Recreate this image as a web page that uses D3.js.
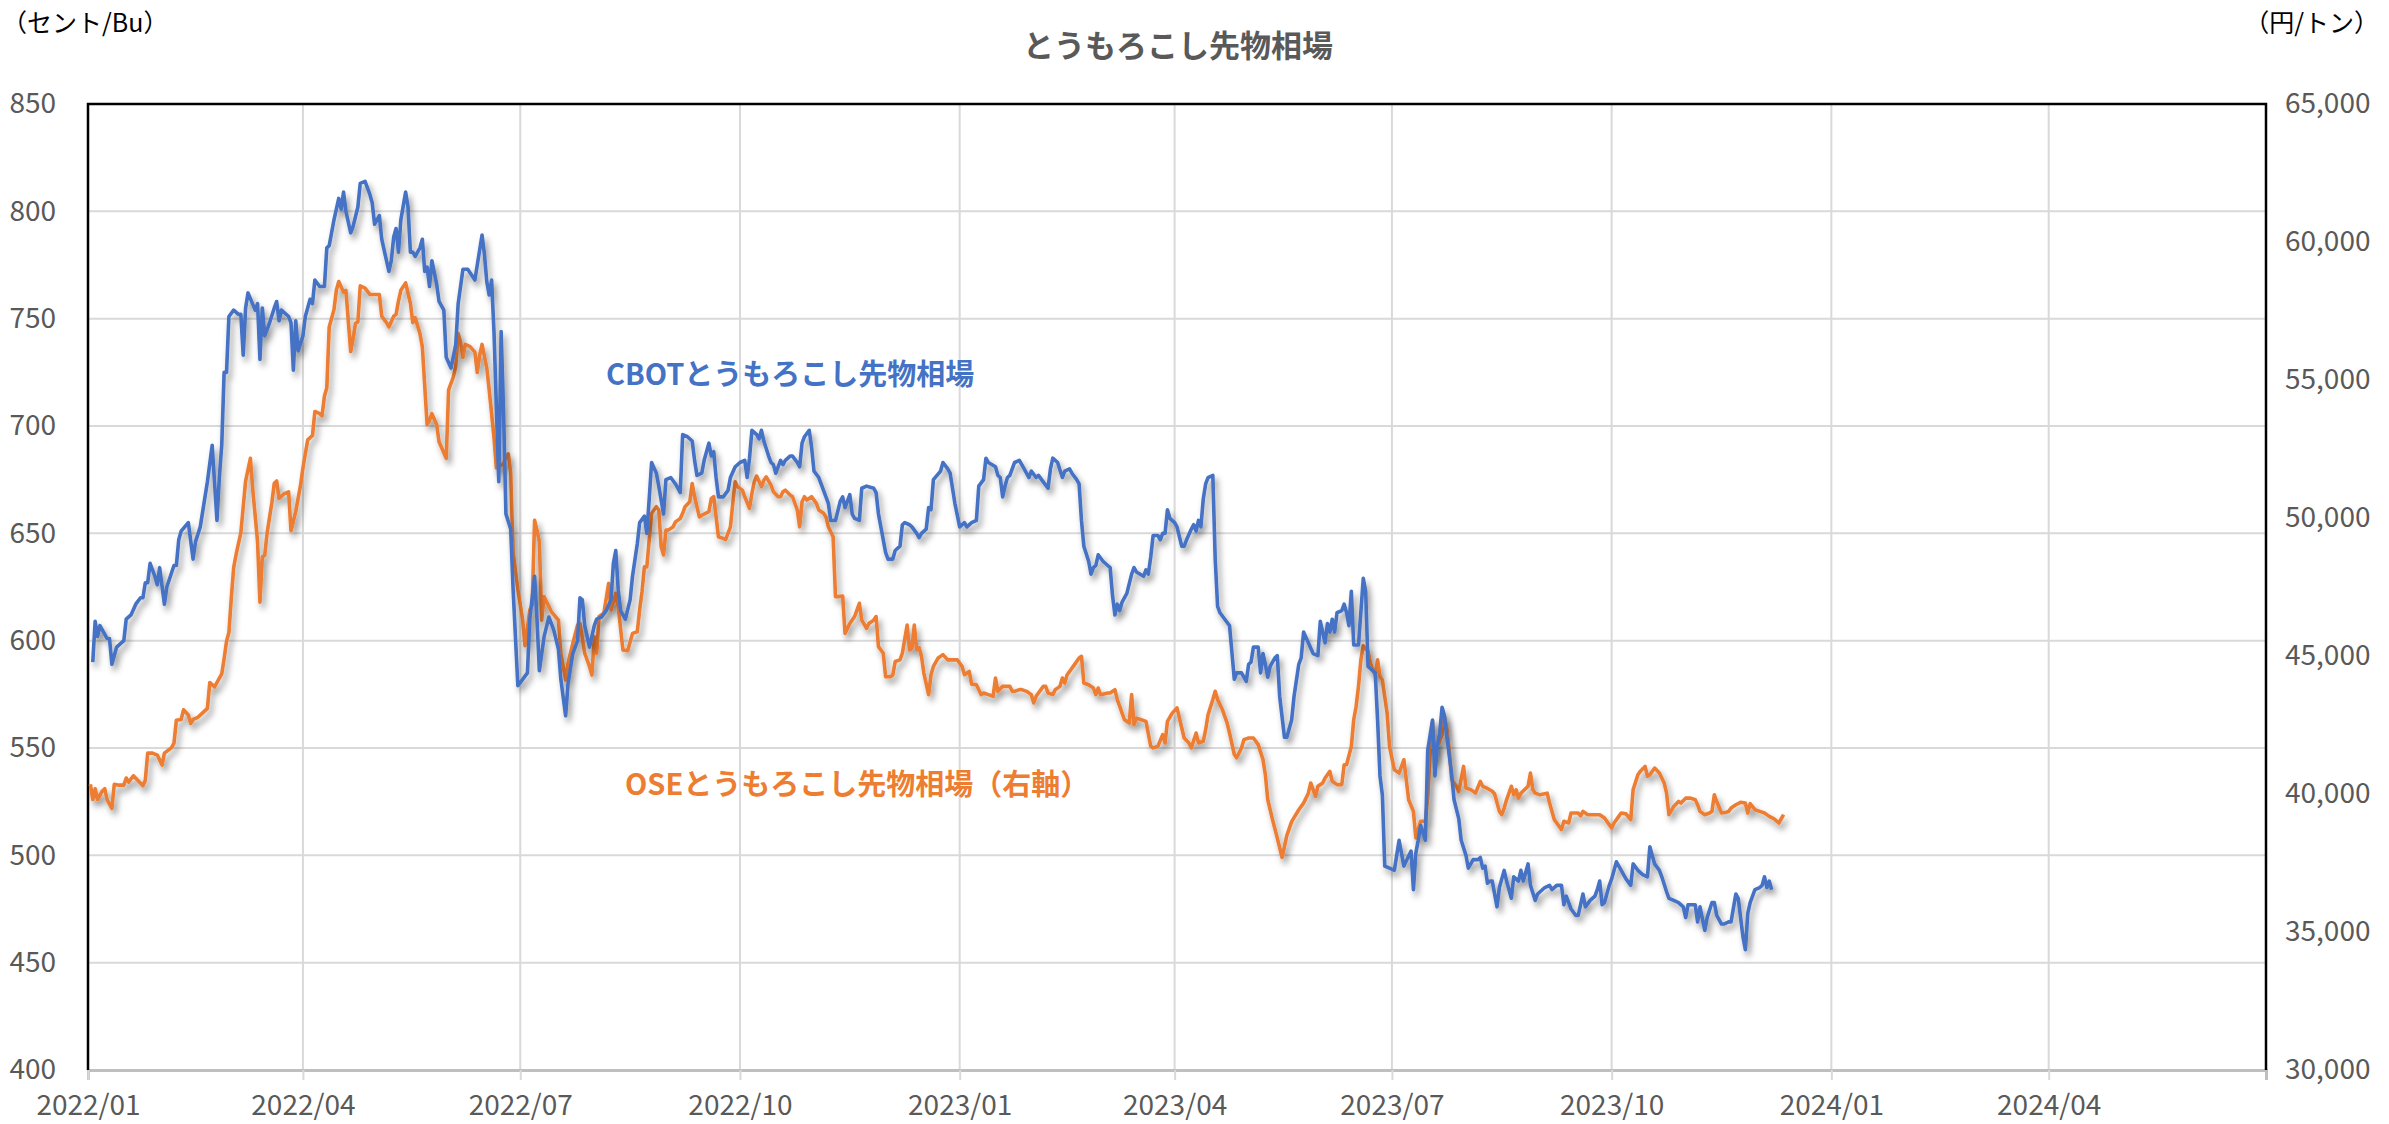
<!DOCTYPE html>
<html>
<head>
<meta charset="utf-8">
<script src="https://cdn.jsdelivr.net/npm/d3@7"></script>
<style>
  html, body { margin: 0; padding: 0; background: #fff; }
  svg { display: block; }
</style>
</head>
<body>
<svg id="chart" width="2389" height="1124"></svg>
<script>
// CBOT corn futures (cents / bushel)
const cbot = [
  ["2022-01-03",590],["2022-01-04",609],["2022-01-05",602],["2022-01-06",607],["2022-01-09",601],["2022-01-10",601],["2022-01-11",589],["2022-01-13",597],["2022-01-16",600],["2022-01-17",610],["2022-01-19",612],["2022-01-21",617],["2022-01-23",620],["2022-01-24",620],["2022-01-25",627],["2022-01-26",627],["2022-01-27",636],["2022-01-29",630],["2022-01-30",626],["2022-01-31",634],
  ["2022-02-02",617],["2022-02-03",625],["2022-02-06",635],["2022-02-07",635],["2022-02-08",647],["2022-02-09",651],["2022-02-12",655],["2022-02-14",638],["2022-02-15",646],["2022-02-17",653],["2022-02-18",660],["2022-02-20",674],["2022-02-22",691],["2022-02-24",656],["2022-02-25",676],["2022-02-26",691],["2022-02-27",725],["2022-02-28",725],
  ["2022-03-01",751],["2022-03-03",754],["2022-03-05",752],["2022-03-06",752],["2022-03-07",733],["2022-03-08",755],["2022-03-09",762],["2022-03-12",754],["2022-03-13",757],["2022-03-14",731],["2022-03-15",755],["2022-03-16",742],["2022-03-18",748],["2022-03-20",755],["2022-03-21",758],["2022-03-22",749],["2022-03-23",754],["2022-03-26",751],["2022-03-27",748],["2022-03-28",726],["2022-03-29",749],["2022-03-30",735],
  ["2022-04-01",742],["2022-04-02",751],["2022-04-04",759],["2022-04-05",757],["2022-04-06",768],["2022-04-08",765],["2022-04-10",765],["2022-04-11",783],["2022-04-12",784],["2022-04-14",796],["2022-04-16",806],["2022-04-17",801],["2022-04-18",809],["2022-04-19",800],["2022-04-21",790],["2022-04-22",793],["2022-04-24",802],["2022-04-25",813],["2022-04-27",814],["2022-04-29",808],["2022-04-30",804],
  ["2022-05-01",794],["2022-05-03",798],["2022-05-04",787],["2022-05-07",772],["2022-05-08",777],["2022-05-09",788],["2022-05-10",792],["2022-05-11",781],["2022-05-12",796],["2022-05-14",809],["2022-05-15",802],["2022-05-16",781],["2022-05-17",781],["2022-05-18",779],["2022-05-20",783],["2022-05-21",787],["2022-05-22",772],["2022-05-23",774],["2022-05-24",765],["2022-05-25",777],["2022-05-27",766],["2022-05-28",758],["2022-05-30",754],["2022-05-31",732],
  ["2022-06-02",727],["2022-06-04",738],["2022-06-05",757],["2022-06-07",773],["2022-06-09",773],["2022-06-12",768],["2022-06-15",789],["2022-06-16",780],["2022-06-17",767],["2022-06-18",761],["2022-06-19",768],["2022-06-20",744],["2022-06-22",674],["2022-06-23",744],["2022-06-24",707],["2022-06-25",659],["2022-06-27",652],["2022-06-28",624],["2022-06-30",579],
  ["2022-07-02",582],["2022-07-04",585],["2022-07-05",610],["2022-07-07",630],["2022-07-08",610],["2022-07-09",586],["2022-07-11",602],["2022-07-13",611],["2022-07-15",605],["2022-07-17",596],["2022-07-18",582],["2022-07-20",565],["2022-07-21",580],["2022-07-23",594],["2022-07-25",600],["2022-07-26",620],["2022-07-27",619],["2022-07-28",607],["2022-07-30",597],
  ["2022-08-01",607],["2022-08-02",610],["2022-08-04",611],["2022-08-06",614],["2022-08-08",619],["2022-08-09",636],["2022-08-10",642],["2022-08-11",624],["2022-08-12",614],["2022-08-14",610],["2022-08-16",619],["2022-08-17",630],["2022-08-19",645],["2022-08-20",655],["2022-08-22",658],["2022-08-23",650],["2022-08-24",666],["2022-08-25",683],["2022-08-27",678],["2022-08-28",672],["2022-08-30",659],["2022-08-31",675],
  ["2022-09-02",676],["2022-09-04",673],["2022-09-06",669],["2022-09-07",696],["2022-09-09",695],["2022-09-11",693],["2022-09-12",684],["2022-09-13",677],["2022-09-15",678],["2022-09-16",684],["2022-09-18",692],["2022-09-19",686],["2022-09-20",688],["2022-09-21",676],["2022-09-22",667],["2022-09-24",667],["2022-09-26",670],["2022-09-27",676],["2022-09-29",681],
  ["2022-10-01",683],["2022-10-03",684],["2022-10-04",676],["2022-10-05",685],["2022-10-06",698],["2022-10-08",696],["2022-10-09",694],["2022-10-10",698],["2022-10-11",693],["2022-10-13",686],["2022-10-14",683],["2022-10-15",682],["2022-10-16",678],["2022-10-18",684],["2022-10-19",682],["2022-10-20",684],["2022-10-22",686],["2022-10-23",686],["2022-10-25",683],["2022-10-26",681],["2022-10-27",692],["2022-10-28",695],["2022-10-30",698],["2022-10-31",690],
  ["2022-11-01",679],["2022-11-03",676],["2022-11-05",670],["2022-11-07",664],["2022-11-08",656],["2022-11-10",656],["2022-11-12",665],["2022-11-13",667],["2022-11-14",662],["2022-11-16",668],["2022-11-17",659],["2022-11-18",657],["2022-11-20",656],["2022-11-21",671],["2022-11-23",672],["2022-11-26",671],["2022-11-27",669],["2022-11-28",659],
  ["2022-12-01",641],["2022-12-02",638],["2022-12-04",638],["2022-12-05",642],["2022-12-07",644],["2022-12-08",654],["2022-12-09",655],["2022-12-11",654],["2022-12-12",653],["2022-12-14",650],["2022-12-15",648],["2022-12-16",650],["2022-12-18",652],["2022-12-19",662],["2022-12-20",661],["2022-12-21",675],["2022-12-24",679],["2022-12-25",683],["2022-12-27",680],["2022-12-28",678],["2022-12-30",664],
  ["2023-01-01",653],["2023-01-03",655],["2023-01-04",653],["2023-01-06",655],["2023-01-08",656],["2023-01-09",672],["2023-01-11",675],["2023-01-12",685],["2023-01-13",683],["2023-01-16",681],["2023-01-17",677],["2023-01-18",676],["2023-01-19",667],["2023-01-20",672],["2023-01-21",676],["2023-01-22",677],["2023-01-24",683],["2023-01-26",684],["2023-01-27",682],["2023-01-28",680],["2023-01-30",676],["2023-01-31",679],
  ["2023-02-02",676],["2023-02-03",677],["2023-02-05",674],["2023-02-07",671],["2023-02-08",680],["2023-02-09",685],["2023-02-11",683],["2023-02-13",676],["2023-02-14",679],["2023-02-16",680],["2023-02-17",678],["2023-02-19",675],["2023-02-20",673],["2023-02-21",656],["2023-02-22",644],["2023-02-24",637],["2023-02-25",631],["2023-02-26",634],["2023-02-27",635],["2023-02-28",640],
  ["2023-03-02",637],["2023-03-04",635],["2023-03-05",634],["2023-03-06",621],["2023-03-07",612],["2023-03-08",617],["2023-03-09",614],["2023-03-10",618],["2023-03-12",622],["2023-03-14",631],["2023-03-15",634],["2023-03-16",632],["2023-03-19",630],["2023-03-20",633],["2023-03-21",631],["2023-03-22",639],["2023-03-23",649],["2023-03-25",649],["2023-03-26",647],["2023-03-27",650],["2023-03-28",650],["2023-03-29",661],["2023-03-30",657],
  ["2023-04-01",655],["2023-04-02",653],["2023-04-04",644],["2023-04-05",644],["2023-04-06",647],["2023-04-08",652],["2023-04-09",654],["2023-04-10",651],["2023-04-11",656],["2023-04-12",653],["2023-04-13",666],["2023-04-14",673],["2023-04-15",676],["2023-04-17",677],["2023-04-18",638],["2023-04-19",616],["2023-04-20",613],["2023-04-22",610],["2023-04-24",607],["2023-04-26",582],["2023-04-27",585],["2023-04-29",585],
  ["2023-05-01",581],["2023-05-02",589],["2023-05-03",590],["2023-05-04",597],["2023-05-06",597],["2023-05-07",585],["2023-05-08",594],["2023-05-09",589],["2023-05-10",583],["2023-05-11",588],["2023-05-13",592],["2023-05-14",593],["2023-05-15",574],["2023-05-17",555],["2023-05-18",555],["2023-05-20",563],["2023-05-21",574],["2023-05-23",589],["2023-05-24",592],["2023-05-25",604],["2023-05-27",599],["2023-05-29",594],["2023-05-31",593],
  ["2023-06-01",609],["2023-06-02",604],["2023-06-03",599],["2023-06-04",608],["2023-06-05",604],["2023-06-06",610],["2023-06-07",604],["2023-06-08",613],["2023-06-10",614],["2023-06-11",617],["2023-06-12",613],["2023-06-13",607],["2023-06-14",623],["2023-06-15",598],["2023-06-17",598],["2023-06-19",629],["2023-06-20",623],["2023-06-21",588],["2023-06-24",585],["2023-06-25",563],["2023-06-26",537],["2023-06-27",528],["2023-06-28",495],["2023-06-30",494],
  ["2023-07-02",493],["2023-07-04",507],["2023-07-06",495],["2023-07-09",502],["2023-07-10",484],["2023-07-11",501],["2023-07-12",507],["2023-07-13",514],["2023-07-15",507],["2023-07-16",549],["2023-07-18",563],["2023-07-19",537],["2023-07-20",551],["2023-07-21",557],["2023-07-22",569],["2023-07-23",565],["2023-07-24",555],["2023-07-26",538],["2023-07-27",526],["2023-07-29",517],["2023-07-30",507],
  ["2023-08-01",500],["2023-08-02",494],["2023-08-04",498],["2023-08-06",498],["2023-08-07",499],["2023-08-08",494],["2023-08-09",495],["2023-08-10",487],["2023-08-11",488],["2023-08-12",488],["2023-08-14",476],["2023-08-15",485],["2023-08-17",493],["2023-08-18",488],["2023-08-20",480],["2023-08-21",490],["2023-08-23",488],["2023-08-24",493],["2023-08-25",488],["2023-08-27",496],["2023-08-28",486],["2023-08-30",479],["2023-08-31",482],
  ["2023-09-03",485],["2023-09-05",486],["2023-09-06",484],["2023-09-08",486],["2023-09-10",486],["2023-09-11",477],["2023-09-12",481],["2023-09-14",475],["2023-09-16",472],["2023-09-17",472],["2023-09-19",482],["2023-09-20",476],["2023-09-22",479],["2023-09-24",481],["2023-09-25",484],["2023-09-26",488],["2023-09-27",477],["2023-09-28",478],["2023-09-30",486],
  ["2023-10-01",489],["2023-10-03",497],["2023-10-05",493],["2023-10-06",491],["2023-10-07",489],["2023-10-09",486],["2023-10-10",496],["2023-10-12",493],["2023-10-14",491],["2023-10-16",490],["2023-10-17",504],["2023-10-19",496],["2023-10-21",493],["2023-10-22",490],["2023-10-24",483],["2023-10-25",480],["2023-10-27",479],["2023-10-29",478],["2023-10-31",476],
  ["2023-11-01",471],["2023-11-02",477],["2023-11-04",477],["2023-11-05",477],["2023-11-06",469],["2023-11-07",476],["2023-11-09",465],["2023-11-10",471],["2023-11-12",478],["2023-11-13",478],["2023-11-14",472],["2023-11-16",468],["2023-11-17",468],["2023-11-19",469],["2023-11-20",469],["2023-11-22",482],["2023-11-23",480],["2023-11-25",462],["2023-11-26",456],["2023-11-27",473],["2023-11-28",478],["2023-11-30",484],
  ["2023-12-02",485],["2023-12-03",486],["2023-12-04",490],["2023-12-05",485],["2023-12-06",488],["2023-12-07",484]
];

// OSE corn futures (yen / ton), right axis
const ose = [
  ["2022-01-02",40350],["2022-01-03",39800],["2022-01-04",40190],["2022-01-05",39800],["2022-01-07",40110],["2022-01-08",40190],["2022-01-09",39800],["2022-01-11",39480],["2022-01-12",40350],["2022-01-14",40320],["2022-01-16",40320],["2022-01-17",40580],["2022-01-18",40430],["2022-01-20",40660],["2022-01-22",40480],["2022-01-24",40300],["2022-01-25",40500],["2022-01-26",41480],["2022-01-28",41480],["2022-01-30",41410],
  ["2022-02-01",41050],["2022-02-02",41480],["2022-02-05",41680],["2022-02-06",41840],["2022-02-07",42670],["2022-02-09",42700],["2022-02-10",43050],["2022-02-12",42860],["2022-02-13",42550],["2022-02-14",42700],["2022-02-16",42780],["2022-02-18",42940],["2022-02-20",43100],["2022-02-21",44040],["2022-02-23",43880],["2022-02-24",44040],["2022-02-26",44350],["2022-02-27",44900],["2022-02-28",45530],
  ["2022-03-01",45850],["2022-03-02",47100],["2022-03-03",48200],["2022-03-04",48670],["2022-03-05",49070],["2022-03-06",49460],["2022-03-07",50400],["2022-03-08",51340],["2022-03-10",52160],["2022-03-11",51030],["2022-03-12",50090],["2022-03-13",49140],["2022-03-14",46950],["2022-03-15",48590],["2022-03-16",48640],["2022-03-17",49460],["2022-03-19",50560],["2022-03-20",51260],["2022-03-21",51340],["2022-03-22",50710],["2022-03-24",50870],["2022-03-26",50950],["2022-03-27",49540],["2022-03-29",50240],["2022-03-31",51190],
  ["2022-04-01",51810],["2022-04-03",52830],["2022-04-05",52990],["2022-04-06",53860],["2022-04-08",53780],["2022-04-09",53700],["2022-04-10",54410],["2022-04-11",54720],["2022-04-12",56920],["2022-04-14",57550],["2022-04-15",58250],["2022-04-16",58570],["2022-04-18",58180],["2022-04-19",58250],["2022-04-21",56030],["2022-04-22",56500],["2022-04-23",57050],["2022-04-24",57100],["2022-04-25",58410],["2022-04-27",58330],["2022-04-29",58100],
  ["2022-05-01",58100],["2022-05-03",58100],["2022-05-04",57310],["2022-05-06",57080],["2022-05-07",56920],["2022-05-09",57310],["2022-05-10",57380],["2022-05-11",57860],["2022-05-12",58250],["2022-05-14",58520],["2022-05-16",57780],["2022-05-17",57080],["2022-05-18",57260],["2022-05-20",56680],["2022-05-21",56200],["2022-05-23",53380],["2022-05-24",53540],["2022-05-25",53780],["2022-05-27",53380],["2022-05-28",52760],["2022-05-31",52160],
  ["2022-06-01",54640],["2022-06-03",55110],["2022-06-04",55500],["2022-06-05",56680],["2022-06-06",56370],["2022-06-07",55820],["2022-06-08",56290],["2022-06-10",56210],["2022-06-12",56010],["2022-06-13",55270],["2022-06-14",55900],["2022-06-15",56290],["2022-06-17",55430],["2022-06-18",54640],["2022-06-20",52910],["2022-06-21",51810],["2022-06-24",51970],["2022-06-25",52210],["2022-06-26",52320],["2022-06-27",51660],["2022-06-28",48750],["2022-06-30",47420],
  ["2022-07-02",46320],["2022-07-03",45370],["2022-07-05",46670],["2022-07-06",46850],["2022-07-07",49920],["2022-07-08",49560],["2022-07-09",49140],["2022-07-10",46300],["2022-07-11",47150],["2022-07-13",46790],["2022-07-14",46610],["2022-07-17",46300],["2022-07-18",45100],["2022-07-20",44130],["2022-07-21",44740],["2022-07-23",45460],["2022-07-25",46120],["2022-07-26",46180],["2022-07-28",45100],["2022-07-30",44620],["2022-07-31",44310],
  ["2022-08-01",45700],["2022-08-02",45100],["2022-08-03",46430],["2022-08-05",46550],["2022-08-07",47630],["2022-08-08",46670],["2022-08-10",47270],["2022-08-11",46790],["2022-08-12",46000],["2022-08-13",45220],["2022-08-15",45190],["2022-08-17",45820],["2022-08-19",45880],["2022-08-20",46670],["2022-08-21",47330],["2022-08-22",48230],["2022-08-23",48230],["2022-08-25",50170],["2022-08-27",50410],["2022-08-28",50290],["2022-08-29",48960],["2022-08-30",48660],["2022-08-31",49560],
  ["2022-09-01",49560],["2022-09-03",49680],["2022-09-04",49860],["2022-09-06",49980],["2022-09-07",50170],["2022-09-08",50410],["2022-09-10",50590],["2022-09-11",51250],["2022-09-12",50770],["2022-09-14",50040],["2022-09-15",50100],["2022-09-18",50230],["2022-09-19",50710],["2022-09-20",50770],["2022-09-22",49320],["2022-09-24",49260],["2022-09-25",49220],["2022-09-27",49680],["2022-09-28",50530],["2022-09-29",51310],["2022-09-30",51130],
  ["2022-10-02",51010],["2022-10-03",50770],["2022-10-05",50350],["2022-10-06",50890],["2022-10-07",51310],["2022-10-08",51520],["2022-10-10",51130],["2022-10-11",51370],["2022-10-12",51490],["2022-10-14",51190],["2022-10-15",50950],["2022-10-17",50770],["2022-10-18",50770],["2022-10-19",50950],["2022-10-20",51010],["2022-10-22",50830],["2022-10-23",50770],["2022-10-25",50290],["2022-10-26",49680],["2022-10-27",50590],["2022-10-28",50770],["2022-10-29",50650],["2022-10-31",50770],
  ["2022-11-02",50530],["2022-11-03",50290],["2022-11-05",50170],["2022-11-06",50040],["2022-11-07",49680],["2022-11-09",49320],["2022-11-10",47150],["2022-11-11",47150],["2022-11-13",47170],["2022-11-14",45820],["2022-11-16",46180],["2022-11-18",46430],["2022-11-20",46910],["2022-11-21",46300],["2022-11-23",46000],["2022-11-24",46180],["2022-11-26",46300],["2022-11-27",46430],["2022-11-28",45340],["2022-11-30",45100],
  ["2022-12-01",44250],["2022-12-03",44250],["2022-12-04",44310],["2022-12-05",44800],["2022-12-07",44860],["2022-12-08",45100],["2022-12-10",46120],["2022-12-11",45220],["2022-12-12",45280],["2022-12-13",46120],["2022-12-14",45220],["2022-12-15",45300],["2022-12-16",44990],["2022-12-17",44380],["2022-12-19",43600],["2022-12-20",44320],["2022-12-21",44620],["2022-12-23",44930],["2022-12-25",45050],["2022-12-27",44860],["2022-12-29",44860],["2022-12-31",44860],
  ["2023-01-02",44620],["2023-01-03",44320],["2023-01-05",44440],["2023-01-06",43980],["2023-01-08",43960],["2023-01-10",43600],["2023-01-11",43660],["2023-01-13",43600],["2023-01-15",43540],["2023-01-16",44200],["2023-01-17",43720],["2023-01-19",43900],["2023-01-22",43900],["2023-01-23",43720],["2023-01-24",43720],["2023-01-26",43780],["2023-01-27",43780],["2023-01-29",43720],["2023-01-31",43600],
  ["2023-02-01",43300],["2023-02-02",43540],["2023-02-05",43900],["2023-02-06",43900],["2023-02-07",43660],["2023-02-09",43600],["2023-02-10",43780],["2023-02-12",43900],["2023-02-13",44200],["2023-02-14",44020],["2023-02-15",44320],["2023-02-16",44440],["2023-02-18",44680],["2023-02-20",44930],["2023-02-21",44990],["2023-02-22",44020],["2023-02-24",43960],["2023-02-26",43840],["2023-02-27",43600],["2023-02-28",43840],
  ["2023-03-01",43600],["2023-03-04",43660],["2023-03-05",43660],["2023-03-07",43780],["2023-03-08",43420],["2023-03-09",43180],["2023-03-10",42930],["2023-03-11",42690],["2023-03-13",42570],["2023-03-14",43600],["2023-03-15",42510],["2023-03-16",42750],["2023-03-18",42690],["2023-03-20",42630],["2023-03-22",41730],["2023-03-23",41670],["2023-03-25",41730],["2023-03-27",42150],["2023-03-28",41850],["2023-03-29",42630],["2023-03-31",42930],
  ["2023-04-02",43120],["2023-04-04",42390],["2023-04-05",42030],["2023-04-07",41850],["2023-04-08",41670],["2023-04-10",42210],["2023-04-11",41850],["2023-04-13",41910],["2023-04-14",42330],["2023-04-15",42870],["2023-04-17",43420],["2023-04-18",43720],["2023-04-19",43420],["2023-04-21",43060],["2023-04-23",42570],["2023-04-24",42210],["2023-04-26",41430],["2023-04-27",41310],["2023-04-29",41670],["2023-04-30",41970],
  ["2023-05-02",42030],["2023-05-04",42030],["2023-05-06",41790],["2023-05-08",41250],["2023-05-09",40700],["2023-05-10",39800],["2023-05-12",39070],["2023-05-14",38400],["2023-05-16",37700],["2023-05-18",38500],["2023-05-20",39000],["2023-05-23",39430],["2023-05-25",39670],["2023-05-27",40030],["2023-05-28",40400],["2023-05-30",39910],["2023-05-31",40280],
  ["2023-06-02",40400],["2023-06-03",40580],["2023-06-05",40820],["2023-06-06",40460],["2023-06-08",40340],["2023-06-10",40340],["2023-06-11",41060],["2023-06-12",41060],["2023-06-14",41720],["2023-06-15",42690],["2023-06-16",43170],["2023-06-17",43900],["2023-06-18",44860],["2023-06-19",45370],["2023-06-21",45160],["2023-06-22",44740],["2023-06-23",44500],["2023-06-24",44320],["2023-06-25",44860],["2023-06-26",44260],["2023-06-27",44140],["2023-06-29",42930],["2023-06-30",41720],
  ["2023-07-02",40880],["2023-07-03",40820],["2023-07-04",40760],["2023-07-06",41240],["2023-07-07",40520],["2023-07-08",39790],["2023-07-10",39370],["2023-07-11",38410],["2023-07-13",39010],["2023-07-15",39010],["2023-07-16",39910],["2023-07-17",41480],["2023-07-18",42630],["2023-07-19",41240],["2023-07-20",41720],["2023-07-22",42150],["2023-07-23",42810],["2023-07-24",42330],["2023-07-25",41600],["2023-07-26",40520],["2023-07-28",40280],["2023-07-29",40090],["2023-07-31",41000],
  ["2023-08-01",40220],["2023-08-03",40160],["2023-08-05",40030],["2023-08-07",40460],["2023-08-08",40280],["2023-08-10",40200],["2023-08-12",40100],["2023-08-13",40000],["2023-08-15",39370],["2023-08-16",39250],["2023-08-17",39490],["2023-08-18",39790],["2023-08-20",40280],["2023-08-21",39970],["2023-08-22",40150],["2023-08-23",39850],["2023-08-24",40030],["2023-08-27",40280],["2023-08-28",40760],["2023-08-29",40160],["2023-08-30",40030],
  ["2023-09-01",39970],["2023-09-04",40030],["2023-09-05",39670],["2023-09-07",39070],["2023-09-09",38830],["2023-09-10",38710],["2023-09-11",39010],["2023-09-13",38950],["2023-09-14",39310],["2023-09-17",39310],["2023-09-18",39210],["2023-09-19",39370],["2023-09-21",39250],["2023-09-24",39250],["2023-09-26",39250],["2023-09-28",39130],["2023-09-30",38890],
  ["2023-10-01",38770],["2023-10-02",38950],["2023-10-04",39190],["2023-10-05",39310],["2023-10-07",39280],["2023-10-09",39070],["2023-10-10",40160],["2023-10-12",40700],["2023-10-13",40820],["2023-10-15",41000],["2023-10-16",40640],["2023-10-17",40700],["2023-10-19",40940],["2023-10-21",40760],["2023-10-23",40400],["2023-10-24",40030],["2023-10-25",39250],["2023-10-27",39550],["2023-10-29",39730],["2023-10-30",39670],
  ["2023-11-01",39850],["2023-11-03",39850],["2023-11-05",39790],["2023-11-06",39610],["2023-11-07",39370],["2023-11-09",39250],["2023-11-11",39310],["2023-11-12",39370],["2023-11-13",39970],["2023-11-14",39730],["2023-11-16",39310],["2023-11-18",39340],["2023-11-19",39370],["2023-11-20",39490],["2023-11-22",39610],["2023-11-24",39700],["2023-11-26",39670],["2023-11-27",39310],["2023-11-28",39650],["2023-11-30",39430],
  ["2023-12-02",39370],["2023-12-04",39310],["2023-12-06",39190],["2023-12-08",39100],["2023-12-10",38950],["2023-12-12",39250]
];

const leftTicks = [400, 450, 500, 550, 600, 650, 700, 750, 800, 850];
const rightTicks = [30000, 35000, 40000, 45000, 50000, 55000, 60000, 65000];
const quarterTicks = ["2022-01-01","2022-04-01","2022-07-01","2022-10-01","2023-01-01","2023-04-01","2023-07-01","2023-10-01","2024-01-01","2024-04-01"];
const xDomain = ["2022-01-01", "2024-07-01"];

const TITLE = "とうもろこし先物相場";
const LEFT_UNIT = "（セント/Bu）";
const RIGHT_UNIT = "（円/トン）";
const CBOT_LABEL = "CBOTとうもろこし先物相場";
const OSE_LABEL = "OSEとうもろこし先物相場（右軸）";

const BLUE = "#4472C4", ORANGE = "#ED7D31", GRID = "#d9d9d9", TEXT = "#595959";
const FONT = "'Noto Sans CJK JP', 'Noto Sans', sans-serif";

const box = { left: 88, right: 2266, top: 104, bottom: 1070 };
const parse = d3.utcParse("%Y-%m-%d");

const x = d3.scaleUtc().domain(xDomain.map(parse)).range([box.left, box.right]);
const yL = d3.scaleLinear().domain([400, 850]).range([box.bottom, box.top]);
const yR = d3.scaleLinear().domain([30000, 65000]).range([box.bottom, box.top]);

const svg = d3.select("#chart");
svg.append("rect").attr("width", 2389).attr("height", 1124).attr("fill", "#fff");

// soft shadow under the lines, like the Excel original
const defs = svg.append("defs");
defs.append("filter").attr("id", "shadow")
  .attr("x", "-5%").attr("y", "-5%").attr("width", "110%").attr("height", "120%")
  .append("feDropShadow")
  .attr("dx", 3).attr("dy", 5).attr("stdDeviation", 3)
  .attr("flood-color", "#000").attr("flood-opacity", 0.42);

// grid
svg.append("g").selectAll("line").data(leftTicks).join("line")
  .attr("x1", box.left).attr("x2", box.right)
  .attr("y1", d => yL(d)).attr("y2", d => yL(d))
  .attr("stroke", GRID).attr("stroke-width", 2);
svg.append("g").selectAll("line").data(quarterTicks.map(parse)).join("line")
  .attr("x1", d => x(d)).attr("x2", d => x(d))
  .attr("y1", box.top).attr("y2", box.bottom)
  .attr("stroke", GRID).attr("stroke-width", 2);

// x axis
const xAxis = svg.append("g")
  .attr("transform", `translate(0,${box.bottom})`)
  .call(d3.axisBottom(x).tickValues(quarterTicks.map(parse))
    .tickFormat(d3.utcFormat("%Y/%m")).tickSize(10).tickPadding(15));
xAxis.select(".domain").attr("stroke", "#bfbfbf").attr("stroke-width", 3);
xAxis.selectAll(".tick line").attr("stroke", GRID).attr("stroke-width", 2);
xAxis.selectAll("text").attr("fill", TEXT).style("font", `28px ${FONT}`);

// left axis
const yAxisL = svg.append("g")
  .attr("transform", `translate(${box.left},0)`)
  .call(d3.axisLeft(yL).tickValues(leftTicks).tickSize(0).tickPadding(32));
yAxisL.select(".domain").remove();
yAxisL.selectAll("text").attr("fill", TEXT).style("font", `28px ${FONT}`);

// right axis
const yAxisR = svg.append("g")
  .attr("transform", `translate(${box.right},0)`)
  .call(d3.axisRight(yR).tickValues(rightTicks).tickSize(0).tickPadding(19)
    .tickFormat(d3.format(",")));
yAxisR.select(".domain").remove();
yAxisR.selectAll("text").attr("fill", TEXT).style("font", `28px ${FONT}`);

// plot border: black on top, left and right
svg.append("path")
  .attr("d", `M${box.left},${box.bottom}V${box.top}H${box.right}V${box.bottom}`)
  .attr("fill", "none").attr("stroke", "#000").attr("stroke-width", 2.5);

// series
const lineL = d3.line().x(d => x(parse(d[0]))).y(d => yL(d[1]));
const lineR = d3.line().x(d => x(parse(d[0]))).y(d => yR(d[1]));

svg.append("path").datum(ose).attr("d", lineR)
  .attr("fill", "none").attr("stroke", ORANGE).attr("stroke-width", 3.6)
  .attr("stroke-linejoin", "round").attr("filter", "url(#shadow)");
svg.append("path").datum(cbot).attr("d", lineL)
  .attr("fill", "none").attr("stroke", BLUE).attr("stroke-width", 3.6)
  .attr("stroke-linejoin", "round").attr("filter", "url(#shadow)");

// texts
svg.append("text").attr("x", 1178).attr("y", 57).attr("text-anchor", "middle")
  .attr("fill", TEXT).style("font", `bold 31px ${FONT}`).text(TITLE);
svg.append("text").attr("x", 2).attr("y", 32)
  .attr("fill", "#000").style("font", `25px ${FONT}`).text(LEFT_UNIT);
svg.append("text").attr("x", 2379).attr("y", 32).attr("text-anchor", "end")
  .attr("fill", "#000").style("font", `25px ${FONT}`).text(RIGHT_UNIT);

svg.append("text").attr("x", 606).attr("y", 385)
  .attr("fill", BLUE).style("font", `bold 29px ${FONT}`).text(CBOT_LABEL);
svg.append("text").attr("x", 625).attr("y", 795)
  .attr("fill", ORANGE).style("font", `bold 29px ${FONT}`).text(OSE_LABEL);
</script>
</body>
</html>
